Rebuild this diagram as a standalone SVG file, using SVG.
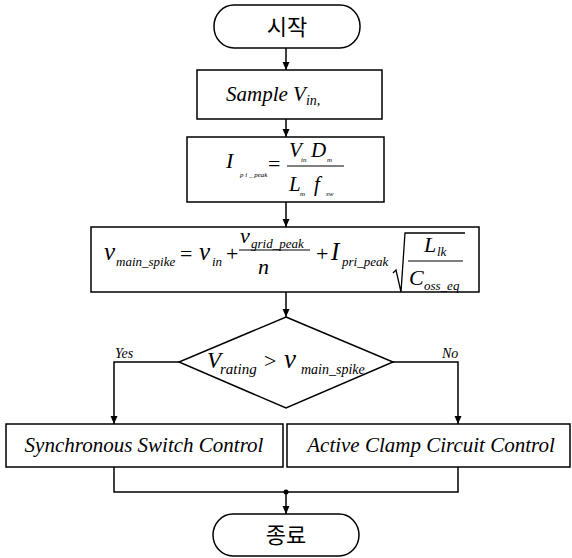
<svg xmlns="http://www.w3.org/2000/svg" width="572" height="558" viewBox="0 0 572 558">
<defs>
<marker id="ah" markerUnits="userSpaceOnUse" markerWidth="8" markerHeight="11" refX="8" refY="3.5" orient="auto">
<path d="M0,0 L8,3.5 L0,7 z" fill="#000"/>
</marker>
<style>
.s{fill:#fff;stroke:#000;stroke-width:1.5}
.c{fill:none;stroke:#000;stroke-width:1.5}
.m{font-family:'Liberation Serif','Times New Roman','DejaVu Serif',serif;font-style:italic;fill:#000}
.k{font-family:'Noto Sans CJK KR','Noto Sans',sans-serif;font-size:22px;fill:#000}
.n{font-family:'Liberation Serif','Times New Roman','DejaVu Serif',serif;font-style:normal;fill:#000}
</style>
</defs>
<rect width="572" height="558" fill="#fff"/>
<g id="connectors">
<path class="c" d="M286,48 V70" marker-end="url(#ah)"/>
<path class="c" d="M286,119 V137" marker-end="url(#ah)"/>
<path class="c" d="M286,202 V227" marker-end="url(#ah)"/>
<path class="c" d="M286,292 V317" marker-end="url(#ah)"/>
<path class="c" d="M179,362 H114 V424" marker-end="url(#ah)"/>
<path class="c" d="M393,362 H458 V424" marker-end="url(#ah)"/>
<path class="c" d="M114,467 V492 H458 V467"/>
<circle cx="286" cy="492" r="2.5" fill="#000"/>
<path class="c" d="M286,492 V514" marker-end="url(#ah)"/>
<text class="m" x="115" y="358" font-size="14">Yes</text>
<text class="m" x="442" y="358" font-size="14">No</text>
</g>
<g id="start">
<rect class="s" x="214" y="5" width="146" height="43" rx="20" ry="21"/>
<text class="k" x="287" y="35" text-anchor="middle">시작</text>
</g>
<g id="sample">
<rect class="s" x="197" y="70" width="185" height="49"/>
<text class="m" x="226" y="101" font-size="21">Sample V<tspan font-size="14" dy="4">in,</tspan></text>
</g>
<g id="ipeak">
<rect class="s" x="187" y="137" width="197" height="65"/>
<text class="m" x="226" y="168" font-size="22">I</text>
<text class="m" x="240" y="177" font-size="7">p i _ peak</text>
<text class="n" x="268" y="171" font-size="22">=</text>
<line x1="287" y1="166" x2="344" y2="166" stroke="#000" stroke-width="1.2"/>
<text class="m" x="289" y="157" font-size="21">V</text>
<text class="m" x="301" y="162" font-size="7">in</text>
<text class="m" x="311" y="157" font-size="21">D</text>
<text class="m" x="327" y="162" font-size="7">m</text>
<text class="m" x="289" y="191" font-size="21">L</text>
<text class="m" x="300" y="196" font-size="7">m</text>
<text class="m" x="314" y="191" font-size="21">f</text>
<text class="m" x="326" y="196" font-size="7">sw</text>
</g>
<g id="vspike">
<rect class="s" x="91" y="227" width="388" height="65"/>
<text class="m" x="104" y="260" font-size="25">v</text>
<text class="m" x="116" y="266" font-size="13">main_spike</text>
<text class="n" x="180" y="261" font-size="22">=</text>
<text class="m" x="199" y="260" font-size="25">v</text>
<text class="m" x="212" y="266" font-size="13">in</text>
<text class="n" x="226" y="261" font-size="22">+</text>
<line x1="239" y1="250" x2="310" y2="250" stroke="#000" stroke-width="1.2"/>
<text class="m" x="240" y="243" font-size="22">v</text>
<text class="m" x="251" y="248" font-size="13">grid_peak</text>
<text class="m" x="258" y="274" font-size="22">n</text>
<text class="n" x="316" y="261" font-size="22">+</text>
<text class="m" x="331" y="260" font-size="25">I</text>
<text class="m" x="342" y="266" font-size="13">pri_peak</text>
<path d="M393,273 L396,270 L401,292 L405,233 H465" fill="none" stroke="#000" stroke-width="1.3"/>
<line x1="408" y1="261" x2="463" y2="261" stroke="#000" stroke-width="1.2"/>
<text class="m" x="424" y="252" font-size="22">L</text>
<text class="m" x="437" y="256" font-size="13">lk</text>
<text class="m" x="409" y="285" font-size="22">C</text>
<text class="m" x="424" y="290" font-size="13">oss_eq</text>
</g>
<g id="decision">
<polygon class="s" points="286,317 393,362 286,408 179,362"/>
<text class="m" x="207" y="368" font-size="23">V</text>
<text class="m" x="220" y="374" font-size="15">rating</text>
<text class="n" x="264" y="368" font-size="22">&gt;</text>
<text class="m" x="284" y="368" font-size="27">v</text>
<text class="m" x="301" y="374" font-size="14">main_spike</text>
</g>
<g id="sync">
<rect class="s" x="6" y="424" width="277" height="43"/>
<text class="m" x="144" y="452" font-size="21" text-anchor="middle">Synchronous Switch Control</text>
</g>
<g id="clamp">
<rect class="s" x="287" y="424" width="283" height="43"/>
<text class="m" x="431" y="452" font-size="21" text-anchor="middle">Active Clamp Circuit Control</text>
</g>
<g id="end">
<rect class="s" x="213" y="514" width="146" height="42" rx="20" ry="21"/>
<text class="k" x="286" y="543" text-anchor="middle">종료</text>
</g>
</svg>
